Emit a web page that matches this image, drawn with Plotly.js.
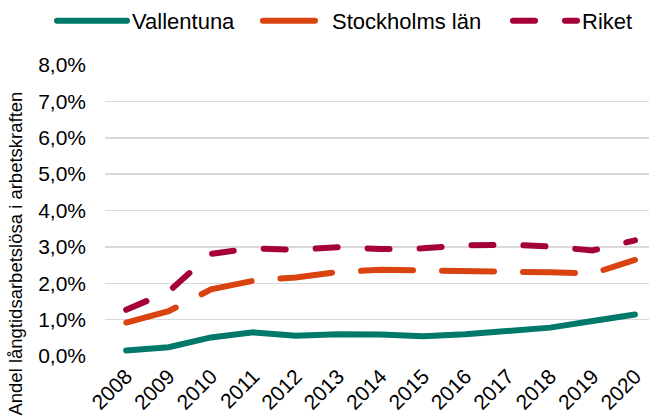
<!DOCTYPE html>
<html>
<head>
<meta charset="utf-8">
<script src="https://cdn.plot.ly/plotly-3.0.1.min.js"></script>
<style>
html,body{margin:0;padding:0;background:#fff;}
#chart{width:649px;height:419px;}
.scatterlayer path.js-line{stroke-linecap:round;}
.legendlines path{stroke-linecap:round;}
</style>
</head>
<body>
<div id="chart"></div>
<script>
const years = ["2008","2009","2010","2011","2012","2013","2014","2015","2016","2017","2018","2019","2020"];
const vallentuna = [0.0015,0.0024,0.0051,0.0065,0.0056,0.0060,0.0059,0.0054,0.0060,0.0070,0.0078,0.0096,0.0114];
const stockholmsLan = [0.0092,0.0123,0.0183,0.0207,0.0216,0.0231,0.0237,0.0236,0.0233,0.0232,0.0230,0.0227,0.0264];
const riket = [0.0127,0.0177,0.0281,0.0296,0.0292,0.0299,0.0294,0.0296,0.0304,0.0306,0.0301,0.0290,0.0318];
const seriesNames = ["Vallentuna","Stockholms län","Riket"];

const font = "Liberation Sans, Arial, sans-serif";

const traces = [
  {x: years, y: vallentuna, name: seriesNames[0], type: "scatter", mode: "lines", legend: "legend",
   line: {color: "#00786A", width: 6}},
  {x: years, y: stockholmsLan, name: seriesNames[1], type: "scatter", mode: "lines", legend: "legend2",
   line: {color: "#D9430F", width: 6, dash: "52px,29px"}},
  {x: years, y: riket, name: seriesNames[2], type: "scatter", mode: "lines", legend: "legend3",
   line: {color: "#A6003A", width: 6, dash: "22px,30px"}}
];

function leg(x, w) {
  return {orientation: "h", x: x, xanchor: "left", y: 1.0, yref: "container", yanchor: "top",
          font: {family: font, size: 22, color: "#000"}, itemwidth: w, bgcolor: "rgba(0,0,0,0)"};
}

const layout = {
  width: 649, height: 419,
  margin: {l: 105, r: 0, t: 65, b: 63},
  paper_bgcolor: "#fff", plot_bgcolor: "#fff",
  separators: ", ",
  font: {family: font, size: 21, color: "#000"},
  showlegend: true,
  legend: leg(-0.0974, 70),
  legend2: leg(0.2813, 64),
  legend3: leg(0.7408, 64),
  xaxis: {type: "category", range: [-0.5, 12.33], showgrid: false, zeroline: false,
          showline: false, ticks: "", tickangle: -45, ticklabelstandoff: 3,
          tickfont: {family: font, size: 21, color: "#000"}},
  yaxis: {range: [0, 0.08], dtick: 0.01, tickformat: ".1%", showgrid: true, gridcolor: "#D9D9D9",
          gridwidth: 1.5, zeroline: false, showline: false, ticks: "", ticklabelstandoff: 18,
          tickfont: {family: font, size: 21, color: "#000"}},
  annotations: [{
    text: "Andel långtidsarbetslösa i arbetskraften", textangle: -90,
    xref: "paper", yref: "paper", x: -0.1636, y: 0.352, xanchor: "center", yanchor: "middle",
    showarrow: false, font: {family: font, size: 18.5, color: "#000"}
  }]
};

Plotly.newPlot("chart", traces, layout, {displayModeBar: false, staticPlot: true});
</script>
</body>
</html>
